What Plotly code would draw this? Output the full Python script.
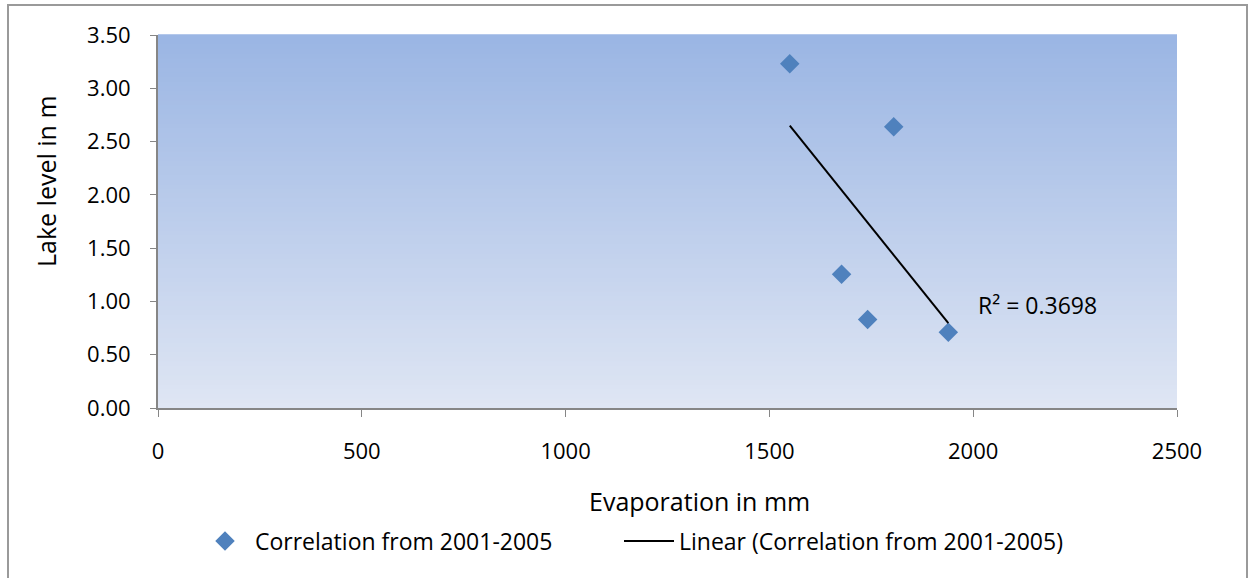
import numpy as np
import plotly.graph_objects as go

# Evaporation (mm) vs. lake level (m), 2001-2005
evaporation_mm = [1550, 1805, 1677, 1741, 1939]
lake_level_m = [3.23, 2.64, 1.2547, 0.83, 0.71]

series_name = "Correlation from 2001-2005"
trend_name = "Linear (Correlation from 2001-2005)"
x_title = "Evaporation in mm"
y_title = "Lake level in m"

x_ticks = [0, 500, 1000, 1500, 2000, 2500]
y_ticks = [0.0, 0.5, 1.0, 1.5, 2.0, 2.5, 3.0, 3.5]

FONT = "Open Sans"

# least-squares linear trend and coefficient of determination
x = np.array(evaporation_mm, dtype=float)
y = np.array(lake_level_m, dtype=float)
slope, intercept = np.polyfit(x, y, 1)
fit = slope * x + intercept
r2 = 1 - np.sum((y - fit) ** 2) / np.sum((y - y.mean()) ** 2)
trend_x = np.array([x.min(), x.max()])
trend_y = slope * trend_x + intercept

fig = go.Figure()

fig.add_trace(go.Scatter(
    x=evaporation_mm, y=lake_level_m, mode="markers", name=series_name,
    marker=dict(symbol="diamond", size=15, color="#4F81BD"),
    legend="legend",
))
fig.add_trace(go.Scatter(
    x=trend_x, y=trend_y, mode="lines", name=trend_name,
    line=dict(color="black", width=2),
    legend="legend2",
))

# vertical gradient fill of the plotting area
top = np.array([155, 182, 228])
bottom = np.array([223, 230, 244])
n_strips = 80
shapes = []
for i in range(n_strips):
    t = i / (n_strips - 1)
    c = bottom + (top - bottom) * t
    shapes.append(dict(
        type="rect", xref="x domain", yref="y domain", layer="below",
        x0=0, x1=1, y0=i / n_strips, y1=(i + 1) / n_strips + 0.002,
        fillcolor=f"rgb({int(c[0])},{int(c[1])},{int(c[2])})",
        line=dict(width=0),
    ))

# helpers converting pixel positions to paper coordinates
plot_w, plot_h = 1019, 373
def px_x(p):
    return (p - 158) / plot_w
def px_y(p):
    return (408 - p) / plot_h

# outer chart frame
shapes.append(dict(
    type="rect", xref="paper", yref="paper", layer="below",
    x0=px_x(8), x1=px_x(1247), y0=px_y(600), y1=px_y(5),
    line=dict(color="#9a9a9a", width=2), fillcolor="rgba(0,0,0,0)",
))

annotations = [
    dict(
        x=px_x(976), y=px_y(305), xref="paper", yref="paper",
        xanchor="left", yanchor="middle",
        text=f"R² = {r2:.4f}", showarrow=False,
        font=dict(family=FONT, size=23, color="black"),
    ),
    dict(
        x=px_x(699), y=px_y(501), xref="paper", yref="paper",
        xanchor="center", yanchor="middle",
        text=x_title, showarrow=False,
        font=dict(family=FONT, size=25, color="black"),
    ),
    dict(
        x=px_x(46), y=px_y(181), xref="paper", yref="paper",
        xanchor="center", yanchor="middle", textangle=-90,
        text=y_title, showarrow=False,
        font=dict(family=FONT, size=25, color="black"),
    ),
]

legend_style = dict(
    orientation="h", xanchor="left", y=px_y(541), yanchor="middle",
    font=dict(family=FONT, size=23, color="black"),
    itemwidth=50,
    bgcolor="rgba(0,0,0,0)",
)

fig.update_layout(
    width=1251, height=578,
    margin=dict(l=158, r=74, t=35, b=170),
    paper_bgcolor="white",
    plot_bgcolor="rgba(0,0,0,0)",
    shapes=shapes,
    annotations=annotations,
    font=dict(family=FONT, color="black"),
    showlegend=True,
    legend=dict(x=px_x(195), **legend_style),
    legend2=dict(x=px_x(619), **legend_style),
    xaxis=dict(
        range=[0, 2500], tickvals=x_ticks, ticktext=[str(v) for v in x_ticks],
        showgrid=False, zeroline=False, showline=True, linecolor="#868686", linewidth=2,
        ticks="outside", ticklen=7, tickcolor="#868686", tickwidth=1,
        ticklabelstandoff=16,
        tickfont=dict(family=FONT, size=22),
    ),
    yaxis=dict(
        range=[0, 3.5], tickvals=y_ticks, ticktext=[f"{v:.2f}" for v in y_ticks],
        showgrid=False, zeroline=False, showline=True, linecolor="#868686", linewidth=2,
        ticks="outside", ticklen=6, tickcolor="#868686", tickwidth=1,
        ticklabelstandoff=15,
        tickfont=dict(family=FONT, size=22),
    ),
)

fig.write_html("out.html")
